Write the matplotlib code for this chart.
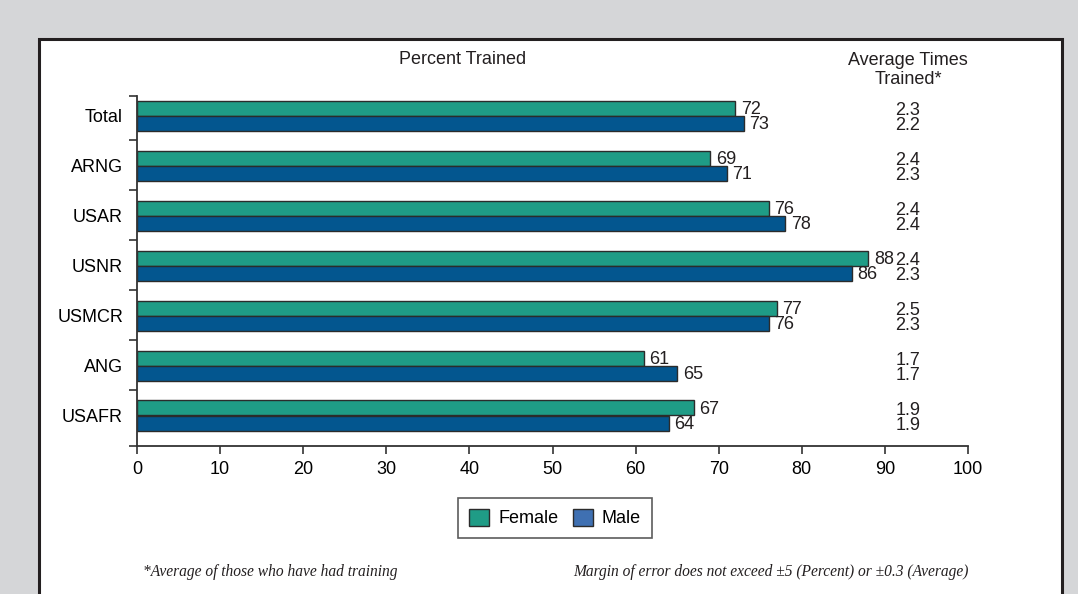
import numpy as np
import matplotlib
matplotlib.use("Agg")
import matplotlib.pyplot as plt
from matplotlib.patches import Rectangle, Patch
from matplotlib.transforms import blended_transform_factory

components = ["Total", "ARNG", "USAR", "USNR", "USMCR", "ANG", "USAFR"]
female_pct = [72, 69, 76, 88, 77, 61, 67]
male_pct = [73, 71, 78, 86, 76, 65, 64]
female_avg = ["2.3", "2.4", "2.4", "2.4", "2.5", "1.7", "1.9"]
male_avg = ["2.2", "2.3", "2.4", "2.3", "2.3", "1.7", "1.9"]
xticks = list(range(0, 101, 10))

FEMALE = "#1f9c86"
MALE = "#03568f"
MALE_LEG = "#3f70b2"
EDGE = "#2b2b2b"
BG = "#d5d6d8"
FS = 13

plt.rcParams["font.family"] = ["Liberation Sans", "DejaVu Sans"]

W, H = 1078, 594
fig = plt.figure(figsize=(W / 100, H / 100), dpi=100, facecolor=BG)

# white panel with dark border (bottom runs off the image)
fig.patches.append(Rectangle((39 / W, -0.05), (1062 - 39) / W, (H - 39) / H + 0.05,
                             transform=fig.transFigure, facecolor="white",
                             edgecolor="#231f20", linewidth=2.2, zorder=-1))

ax = fig.add_axes([137 / W, (H - 446) / H, (968 - 137) / W, (446 - 96) / H])
ax.set_facecolor("none")
ax.set_zorder(2)

y = np.arange(len(components))
h = 0.3
ax.barh(y - h / 2, female_pct, height=h, color=FEMALE, edgecolor=EDGE, linewidth=1)
ax.barh(y + h / 2, male_pct, height=h, color=MALE, edgecolor=EDGE, linewidth=1)

for yi, f, m in zip(y, female_pct, male_pct):
    ax.annotate(str(f), (f, yi - h / 2), xytext=(4, -1), textcoords="offset points",
                va="center", ha="left", fontsize=FS, color="#231f20")
    ax.annotate(str(m), (m, yi + h / 2), xytext=(4, -1), textcoords="offset points",
                va="center", ha="left", fontsize=FS, color="#231f20")

ax.set_xlim(0, 100)
ax.set_ylim(len(components) - 1 + 0.61, -0.39)
ax.set_xticks(xticks)
ax.set_xticklabels([str(t) for t in xticks], fontsize=FS)
ax.set_yticks(y)
ax.set_yticklabels(components, fontsize=FS)
ax.tick_params(axis="y", length=0, pad=10)
ax.set_yticks([-0.39] + [i + 0.49 for i in range(len(components) - 1)]
              + [len(components) - 1 + 0.61], minor=True)
ax.tick_params(axis="y", which="minor", length=6, width=1.2, color="#333333")
ax.tick_params(axis="x", length=6, width=1.2, color="#333333", pad=5)
for s in ("top", "right"):
    ax.spines[s].set_visible(False)
for s in ("left", "bottom"):
    ax.spines[s].set_linewidth(1.3)
    ax.spines[s].set_color("#333333")

# average times trained column: female over male, stacked tight
tr = blended_transform_factory(ax.transAxes, ax.transData)
xa = (908 - 137) / (968 - 137)
for yi, fa, ma in zip(y, female_avg, male_avg):
    ax.text(xa, yi + 0.05, f"{fa}\n{ma}", transform=tr, ha="center", va="center",
            fontsize=FS, color="#231f20", linespacing=0.88)

fig.text(463 / W, 1 - 60 / H, "Percent Trained", ha="center", va="center",
         fontsize=FS, color="#231f20")
fig.text(908 / W, 1 - 70 / H, "Average Times\nTrained*", ha="center", va="center",
         fontsize=FS, color="#231f20", linespacing=1.15)

handles = [Patch(facecolor=FEMALE, edgecolor=EDGE, label="Female"),
           Patch(facecolor=MALE_LEG, edgecolor=EDGE, label="Male")]
leg = fig.legend(handles=handles, loc="center", bbox_to_anchor=(555 / W, 1 - 518 / H),
                 ncol=2, frameon=True, fancybox=False, fontsize=FS,
                 handlelength=1.1, handleheight=1.1, handletextpad=0.5,
                 columnspacing=0.8, borderpad=0.6)
leg.get_frame().set_edgecolor("#333333")
leg.get_frame().set_linewidth(1.2)

foot = dict(fontsize=11.2, style="italic", color="#231f20",
            family=["Liberation Serif", "DejaVu Serif"], va="center")
fig.text(270 / W, 1 - 572 / H, "*Average of those who have had training",
         ha="center", **foot)
fig.text(771 / W, 1 - 572 / H,
         "Margin of error does not exceed \u00b15 (Percent) or \u00b10.3 (Average)",
         ha="center", **foot)

fig.savefig("out.png", dpi=100, facecolor=BG)
